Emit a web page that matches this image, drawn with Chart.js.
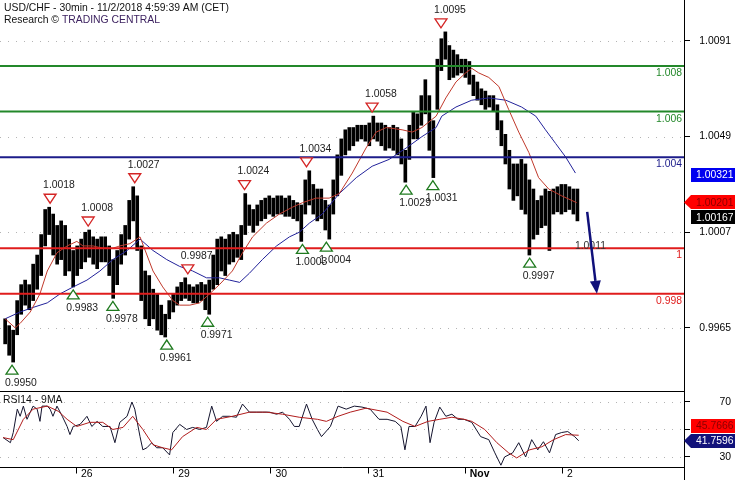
<!DOCTYPE html>
<html>
<head>
<meta charset="utf-8">
<script src="https://cdn.jsdelivr.net/npm/chart.js@4.4.1/dist/chart.umd.min.js"></script>
<style>
  html, body { margin: 0; padding: 0; background: #fff; }
  #wrap { width: 735px; height: 480px; position: relative; }
</style>
</head>
<body>
<div id="wrap"><canvas id="chart" width="735" height="480"></canvas></div>
<script>
const FONT = '"Liberation Sans", Arial, sans-serif'
const FSIZE = 10.4

// axes
const priceTicks = [0.9965, 1.0007, 1.0049, 1.0091]
const rsiTicks = [30, 50, 70]
const dayTicks = [0, 24, 48, 72, 96, 120] // hours from Oct 26 00:00 CET (weekend skipped)
const dayLabels = ['26', '29', '30', '31', 'Nov', '2']

// price bars, sampled roughly hourly (high / low)
const firstBarHour = -17.5
const barStep = 0.988
const barHigh = [
  0.9969, 0.9966, 0.9964, 0.9977, 0.9984, 0.9986, 0.9984, 0.9993, 0.9997, 1.0006,
  1.0017, 1.0018, 1.0015, 1.0010, 1.0012, 1.0010, 1.0004, 0.9999, 1.0001, 1.0004,
  1.0007, 1.0008, 1.0005, 1.0004, 1.0005, 1.0005, 1.0001, 0.9995, 0.9999, 1.0006,
  1.0010, 1.0021, 1.0027, 1.0023, 1.0001, 0.9990, 0.9988, 0.9982, 0.9980, 0.9975,
  0.9971, 0.9977, 0.9980, 0.9983, 0.9985, 0.9987, 0.9984, 0.9983, 0.9984, 0.9985,
  0.9984, 0.9986, 0.9997, 1.0004, 1.0005, 1.0004, 1.0006, 1.0007, 1.0006, 1.0010,
  1.0024, 1.0019, 1.0017, 1.0019, 1.0021, 1.0022, 1.0023, 1.0022, 1.0023, 1.0023,
  1.0022, 1.0023, 1.0021, 1.0020, 1.0019, 1.0030, 1.0034, 1.0028, 1.0026, 1.0026,
  1.0021, 1.0019, 1.0030, 1.0041, 1.0048, 1.0052, 1.0053, 1.0053, 1.0054, 1.0054,
  1.0054, 1.0055, 1.0058, 1.0055, 1.0055, 1.0054, 1.0053, 1.0054, 1.0053, 1.0048,
  1.0043, 1.0054, 1.0060, 1.0059, 1.0067, 1.0074, 1.0067, 1.0056, 1.0083, 1.0092,
  1.0095, 1.0089, 1.0087, 1.0085, 1.0083, 1.0083, 1.0082, 1.0076, 1.0073, 1.0070,
  1.0069, 1.0067, 1.0067, 1.0063, 1.0056, 1.0050, 1.0043, 1.0037, 1.0037, 1.0039,
  1.0037, 1.0030, 1.0026, 1.0021, 1.0023, 1.0026, 1.0025, 1.0026, 1.0027, 1.0028,
  1.0028, 1.0027, 1.0026, 1.0026
]
const barLow = [
  0.9958, 0.9953, 0.9950, 0.9962, 0.9971, 0.9975, 0.9973, 0.9977, 0.9982, 0.9988,
  1.0001, 1.0006, 0.9997, 0.9993, 0.9995, 0.9988, 0.9990, 0.9983, 0.9988, 0.9991,
  0.9994, 0.9996, 0.9993, 0.9991, 0.9994, 0.9994, 0.9988, 0.9978, 0.9984, 0.9993,
  0.9997, 1.0004, 1.0012, 0.9999, 0.9977, 0.9969, 0.9966, 0.9969, 0.9964, 0.9962,
  0.9961, 0.9969, 0.9972, 0.9975, 0.9977, 0.9978, 0.9977, 0.9976, 0.9976, 0.9977,
  0.9973, 0.9971, 0.9982, 0.9984, 0.9990, 0.9988, 0.9993, 0.9994, 0.9996, 0.9995,
  1.0006, 1.0010, 1.0007, 1.0010, 1.0012, 1.0013, 1.0015, 1.0014, 1.0015, 1.0015,
  1.0014, 1.0014, 1.0013, 1.0012, 1.0003, 1.0015, 1.0019, 1.0015, 1.0012, 1.0013,
  1.0008, 1.0004, 1.0015, 1.0023, 1.0032, 1.0041, 1.0043, 1.0045, 1.0047, 1.0048,
  1.0047, 1.0045, 1.0048, 1.0047, 1.0045, 1.0043, 1.0044, 1.0043, 1.0041, 1.0037,
  1.0029, 1.0039, 1.0048, 1.0048, 1.0054, 1.0059, 1.0043, 1.0031, 1.0061, 1.0078,
  1.0083, 1.0074, 1.0075, 1.0076, 1.0077, 1.0075, 1.0072, 1.0067, 1.0065, 1.0063,
  1.0061, 1.0062, 1.0060, 1.0052, 1.0045, 1.0037, 1.0026, 1.0021, 1.0023, 1.0017,
  1.0015, 0.9997, 1.0004, 1.0006, 1.0009, 1.0010, 0.9999, 1.0015, 1.0016, 1.0015,
  1.0016, 1.0017, 1.0015, 1.0012
]

// moving averages
const fastMaHours = [-17.5, -15.0, -13.8, -11.3, -8.9, -7.1, -4.7, -2.2, 0.2, 1.7, 4.2, 6.6, 9.1, 10.8, 13.3, 15.8,
  19.0, 21.4, 23.9, 25.6, 28.1, 30.5, 33.0, 35.4, 38.6, 41.1, 43.6, 47.0, 50.2, 53.4, 55.9, 59.3, 62.5, 65.0,
  68.2, 71.6, 74.1, 76.6, 80.5, 83.0, 85.4, 88.9, 91.3, 93.8, 96.2, 97.7, 99.4, 101.9, 104.4, 106.8, 109.3,
  111.8, 114.2, 116.7, 119.9, 123.6]
const fastMa = [0.9969, 0.9965, 0.9967, 0.9972, 0.9980, 0.9990, 0.9998, 1.0001, 1.0003, 1.0001, 1.0001, 1.0000,
  1.0000, 1.0001, 1.0002, 1.0005, 0.9990, 0.9983, 0.9977, 0.9975, 0.9975, 0.9976, 0.9980, 0.9984, 0.9990, 0.9998,
  1.0005, 1.0011, 1.0015, 1.0018, 1.0020, 1.0022, 1.0022, 1.0024, 1.0033, 1.0044, 1.0051, 1.0053, 1.0052, 1.0051,
  1.0053, 1.0058, 1.0066, 1.0073, 1.0077, 1.0079, 1.0077, 1.0075, 1.0071, 1.0061, 1.0051, 1.0042, 1.0031, 1.0026,
  1.0023, 1.0020]
const slowMaHours = [-17.5, -13.8, -10.6, -7.1, -3.9, -0.7, 2.7, 5.9, 9.1, 12.6, 15.8, 19.0, 22.4, 25.6, 28.8,
  32.2, 35.4, 37.9, 40.4, 42.8, 46.0, 49.5, 52.7, 55.1, 57.6, 60.8, 65.0, 69.2, 73.1, 77.3, 81.5, 85.4, 88.9,
  90.3, 93.8, 97.7, 101.9, 106.1, 110.0, 113.5, 115.9, 118.4, 120.9, 123.3]
const slowMa = [0.9969, 0.9972, 0.9974, 0.9976, 0.9980, 0.9983, 0.9986, 0.9990, 0.9995, 0.9999, 1.0004, 0.9999,
  0.9995, 0.9992, 0.9990, 0.9987, 0.9987, 0.9986, 0.9985, 0.9989, 0.9995, 1.0001, 1.0005, 1.0007, 1.0011, 1.0015,
  1.0024, 1.0031, 1.0036, 1.0039, 1.0044, 1.0049, 1.0053, 1.0058, 1.0062, 1.0065, 1.0066, 1.0065, 1.0062, 1.0058,
  1.0052, 1.0046, 1.0040, 1.0033]

// RSI(14) and its 9-period MA
const rsiHours = [-18.0, -16.2, -15.5, -14.5, -13.8, -13.0, -12.1, -11.3, -10.6, -9.6, -8.9, -8.4, -7.1, -6.4,
  -5.7, -4.7, -3.4, -2.2, -1.5, -0.7, 1.0, 2.7, 3.9, 5.2, 6.6, 8.4, 9.6, 10.8, 12.6, 13.8, 14.5, 15.8, 16.5,
  17.5, 18.7, 19.9, 21.4, 23.1, 23.9, 25.6, 27.3, 28.8, 30.5, 32.2, 33.5, 34.7, 36.2, 37.9, 39.6, 41.1, 42.8,
  44.6, 46.0, 47.8, 49.5, 51.0, 52.7, 53.9, 55.1, 56.9, 58.3, 59.6, 60.6, 62.8, 64.7, 66.7, 68.7, 70.6, 72.6,
  74.8, 76.8, 78.8, 80.2, 81.2, 82.2, 83.7, 85.2, 86.4, 87.4, 88.4, 89.8, 91.3, 92.8, 94.3, 95.8, 97.7, 99.9,
  101.9, 103.4, 104.9, 105.8, 107.8, 109.3, 111.0, 112.5, 114.0, 115.4, 116.9, 118.4, 119.9, 121.4, 123.1, 124.1]
const rsiValues = [44.1, 40.4, 47.8, 64.8, 59.6, 67, 57.4, 62.6, 67, 64.8, 55.9, 67, 67, 64.8, 59.6, 67, 59.6,
  52.2, 46.3, 52.2, 53.7, 59.6, 52.2, 55.9, 52.2, 52.2, 40.4, 55.2, 59.6, 70, 64.8, 44.8, 35.2, 36.7, 40.4, 36.7,
  36.7, 31.5, 47.8, 53.7, 50, 51.5, 50, 51.5, 67, 55.9, 59.6, 59.6, 58.9, 68.5, 62.6, 62.6, 62.6, 62.6, 61.1,
  62.6, 57.4, 52.2, 52.2, 68.5, 57.4, 50, 44.8, 52.2, 67, 64.8, 67, 66.3, 64.8, 57.4, 57.4, 55.9, 52.2, 35.2,
  52.2, 52.2, 59.6, 67, 40.4, 55.2, 66.3, 59.6, 61.1, 57.4, 57.4, 55.2, 44.8, 42.6, 33, 24, 30, 33, 40.4, 30,
  42.6, 35.2, 41.1, 33, 46.3, 47.8, 48.5, 44.8, 41.8]
const rsiMaHours = [-18.0, -15.5, -13.0, -10.6, -7.1, -4.4, -2.2, 0.2, 3.4, 6.6, 9.1, 11.6, 14.0, 16.5, 19.0,
  21.4, 23.6, 26.3, 29.8, 32.2, 34.7, 38.6, 42.8, 47.0, 51.0, 55.1, 59.6, 61.8, 64.7, 67.7, 71.6, 76.8, 80.7,
  83.7, 86.9, 89.8, 92.8, 95.8, 97.7, 100.9, 103.9, 106.8, 108.8, 112.0, 115.0, 117.9, 120.9, 124.1]
const rsiMaValues = [44.1, 42.6, 57.4, 64.8, 67, 63.3, 57.4, 52.2, 55.2, 55.2, 50, 51.5, 59.6, 50, 38.9, 36.7,
  35.2, 44.8, 51.5, 50, 57.4, 59.6, 62.6, 62.6, 61.1, 58.9, 57.4, 55.9, 59.6, 62.6, 65.5, 62.6, 55.9, 52.2, 55.9,
  57.4, 58.9, 57.4, 55.9, 50, 40.4, 33, 29.3, 35.2, 37.4, 42.6, 46.3, 45.8]

// swing points
const pivotHours = [-15.8, -6.4, -0.7, 3.0, 9.1, 14.5, 22.4, 27.6, 32.5, 41.6, 55.9, 56.9, 61.8, 73.1, 81.5, 88.1, 90.1, 112.0]
const pivotValues = [0.9950, 1.0018, 0.9983, 1.0008, 0.9978, 1.0027, 0.9961, 0.9987, 0.9971, 1.0024, 1.0003,
  1.0034, 1.0004, 1.0058, 1.0029, 1.0031, 1.0095, 0.9997]
const pivotKinds = ['low', 'high', 'low', 'high', 'low', 'high', 'low', 'high', 'low', 'high', 'low', 'high',
  'low', 'high', 'low', 'low', 'high', 'low']

// support / resistance levels
const levelValues = [1.008, 1.006, 1.004, 1.000, 0.998]
const levelLabels = ['1.008', '1.006', '1.004', '1', '0.998']
const levelColors = ['#23882a', '#23882a', '#1c1c8a', '#e01c1c', '#e01c1c']

// projection arrow and target note
const arrowHours = [126.2, 128.6]
const arrowValues = [1.0016, 0.998]
const noteHour = 127.0
const noteValue = 1.0000
const noteText = '1.0011'

// last values shown on the axis
const lastSlowMa = 1.00321
const lastFastMa = 1.00201
const lastClose = 1.00167
const lastRsi = 41.7596
const lastRsiMa = 45.7666

const bars = barHigh.map((h, i) => ({ x: firstBarHour + i * barStep, y: [barLow[i], h] }))
const pts = (xs, ys) => xs.map((x, i) => ({ x, y: ys[i] }))

Chart.defaults.font.family = FONT
Chart.defaults.font.size = FSIZE
Chart.defaults.color = '#000'

const overlay = {
  id: 'overlay',
  beforeDatasetsDraw(chart) {
    const { ctx, chartArea: a, scales } = chart
    ctx.save()
    ctx.strokeStyle = '#b4b4b4'
    ctx.lineWidth = 1
    ctx.setLineDash([1, 7])
    const dots = (scale, vals) => vals.forEach(v => {
      const y = Math.round(scale.getPixelForValue(v)) + 0.5
      ctx.beginPath()
      ctx.moveTo(a.left, y)
      ctx.lineTo(a.right, y)
      ctx.stroke()
    })
    dots(scales.y, priceTicks)
    dots(scales.rsi, rsiTicks)
    ctx.restore()
  },
  afterDraw(chart) {
    const { ctx, chartArea: a, scales } = chart
    const xs = scales.x, ys = scales.y, rs = scales.rsi
    ctx.save()
    ctx.font = FSIZE + 'px ' + FONT

    // level lines
    ctx.save()
    ctx.beginPath()
    ctx.rect(a.left, a.top, a.right - a.left, ys.bottom - a.top)
    ctx.clip()
    levelValues.forEach((v, i) => {
      const y = ys.getPixelForValue(v)
      ctx.strokeStyle = levelColors[i]
      ctx.lineWidth = 2
      ctx.beginPath()
      ctx.moveTo(a.left, y)
      ctx.lineTo(a.right, y)
      ctx.stroke()
      ctx.fillStyle = levelColors[i]
      ctx.textAlign = 'right'
      ctx.textBaseline = 'top'
      ctx.fillText(levelLabels[i], a.right - 2, y + 2)
    })

    // swing triangles
    pivotHours.forEach((h, i) => {
      const x = xs.getPixelForValue(h)
      const y = ys.getPixelForValue(pivotValues[i])
      const high = pivotKinds[i] === 'high'
      const cy = high ? y - 9 : y + 8
      ctx.beginPath()
      if (high) {
        ctx.moveTo(x - 6, cy - 4); ctx.lineTo(x + 6, cy - 4); ctx.lineTo(x, cy + 5)
      } else {
        ctx.moveTo(x - 6, cy + 4); ctx.lineTo(x + 6, cy + 4); ctx.lineTo(x, cy - 5)
      }
      ctx.closePath()
      ctx.fillStyle = '#fff'
      ctx.fill()
      ctx.strokeStyle = high ? '#d42424' : '#1f7a1f'
      ctx.lineWidth = 1.3
      ctx.stroke()
      ctx.fillStyle = '#222'
      ctx.textAlign = 'left'
      ctx.textBaseline = 'middle'
      ctx.fillText(pivotValues[i].toFixed(4), x - 7, high ? y - 22 : y + 21)
    })

    // target note
    ctx.fillStyle = '#333'
    ctx.textAlign = 'center'
    ctx.textBaseline = 'middle'
    ctx.fillText(noteText, xs.getPixelForValue(noteHour), ys.getPixelForValue(noteValue) - 2)

    // projection arrow
    const x0 = xs.getPixelForValue(arrowHours[0]), y0 = ys.getPixelForValue(arrowValues[0])
    const x1 = xs.getPixelForValue(arrowHours[1]), y1 = ys.getPixelForValue(arrowValues[1])
    const ang = Math.atan2(y1 - y0, x1 - x0)
    const hl = 13, hw = 5.5
    ctx.strokeStyle = '#10107a'
    ctx.fillStyle = '#10107a'
    ctx.lineWidth = 2.5
    ctx.beginPath()
    ctx.moveTo(x0, y0)
    ctx.lineTo(x1 - Math.cos(ang) * hl, y1 - Math.sin(ang) * hl)
    ctx.stroke()
    ctx.beginPath()
    ctx.moveTo(x1, y1)
    ctx.lineTo(x1 - Math.cos(ang) * hl - Math.sin(ang) * hw, y1 - Math.sin(ang) * hl + Math.cos(ang) * hw)
    ctx.lineTo(x1 - Math.cos(ang) * hl + Math.sin(ang) * hw, y1 - Math.sin(ang) * hl - Math.cos(ang) * hw)
    ctx.closePath()
    ctx.fill()
    ctx.restore()

    // frame lines
    ctx.strokeStyle = '#000'
    ctx.lineWidth = 1
    const sep = Math.round(ys.bottom) + 0.5
    const bot = Math.round(a.bottom) + 0.5
    const rx = Math.round(a.right) + 0.5
    ctx.beginPath()
    ctx.moveTo(a.left, sep); ctx.lineTo(rx, sep)
    ctx.moveTo(a.left, bot); ctx.lineTo(rx, bot)
    ctx.moveTo(rx, 0); ctx.lineTo(rx, chart.height)
    dayTicks.forEach(d => {
      const x = Math.round(xs.getPixelForValue(d)) + 0.5
      ctx.moveTo(x, bot); ctx.lineTo(x, bot + 6)
    })
    ctx.stroke()

    // titles
    ctx.textAlign = 'left'
    ctx.textBaseline = 'middle'
    ctx.fillStyle = '#111'
    ctx.fillText('USD/CHF - 30min - 11/2/2018 4:59:39 AM (CET)', 4, 8)
    const lead = 'Research \u00a9 '
    ctx.fillText(lead, 4, 20)
    ctx.fillStyle = '#3d2260'
    ctx.fillText('TRADING CENTRAL', 4 + ctx.measureText(lead).width, 20)
    ctx.fillStyle = '#111'
    ctx.fillText('RSI14 - 9MA', 3, ys.bottom + 9)

    // value tags on the axis
    const th = 14, tx = a.right + 7, tw = chart.width - tx
    const tag = (y, text, bg, fg, arrow) => {
      ctx.fillStyle = bg
      ctx.fillRect(tx, Math.round(y - th / 2), tw, th)
      if (arrow) {
        ctx.beginPath()
        ctx.moveTo(a.right, y)
        ctx.lineTo(tx, Math.round(y - th / 2))
        ctx.lineTo(tx, Math.round(y - th / 2) + th)
        ctx.closePath()
        ctx.fill()
      }
      ctx.fillStyle = fg
      ctx.textAlign = 'left'
      ctx.textBaseline = 'middle'
      ctx.fillText(text, tx + 5, y + 0.5)
    }
    const away = (y, anchor) => Math.abs(y - anchor) < th + 1 ? (y > anchor ? anchor + th + 1 : anchor - th - 1) : y
    const fastY = ys.getPixelForValue(lastFastMa)
    tag(ys.getPixelForValue(lastSlowMa), lastSlowMa.toFixed(5), '#0000f0', '#fff', false)
    tag(fastY, lastFastMa.toFixed(5), '#ff0000', '#8a0000', true)
    tag(away(ys.getPixelForValue(lastClose), fastY), lastClose.toFixed(5), '#000', '#fff', false)
    const rsiY = rs.getPixelForValue(lastRsi)
    tag(away(rs.getPixelForValue(lastRsiMa), rsiY), lastRsiMa.toFixed(4), '#ff0000', '#8a0000', false)
    tag(rsiY, lastRsi.toFixed(4), '#12127a', '#fff', true)
    ctx.restore()
  }
}

const yFit = (w) => (s) => { s.width = w; s.paddingTop = 0; s.paddingBottom = 0 }

new Chart(document.getElementById('chart'), {
  type: 'bar',
  data: {
    datasets: [
      { type: 'line', data: pts(fastMaHours, fastMa), borderColor: '#c0392b', borderWidth: 1, pointRadius: 0, yAxisID: 'y', order: 1 },
      { type: 'line', data: pts(slowMaHours, slowMa), borderColor: '#22229a', borderWidth: 1, pointRadius: 0, yAxisID: 'y', order: 2 },
      { type: 'bar', data: bars, backgroundColor: '#000', barThickness: 3, grouped: false, yAxisID: 'y', order: 5 },
      { type: 'line', data: pts(rsiMaHours, rsiMaValues), borderColor: '#b01c1c', borderWidth: 1, pointRadius: 0, yAxisID: 'rsi', order: 3 },
      { type: 'line', data: pts(rsiHours, rsiValues), borderColor: '#14142e', borderWidth: 1, pointRadius: 0, yAxisID: 'rsi', order: 4 }
    ]
  },
  options: {
    responsive: false,
    animation: false,
    layout: { padding: { left: 0, right: 4, top: 0, bottom: 0 } },
    plugins: { legend: { display: false }, tooltip: { enabled: false } },
    scales: {
      x: {
        type: 'linear',
        min: -18.77,
        max: 150.1,
        offset: false,
        grid: { display: false, drawTicks: false },
        border: { display: false },
        afterBuildTicks: (s) => { s.ticks = dayTicks.map(v => ({ value: v })) },
        afterFit: (s) => { s.height = 13; s.paddingLeft = 0; s.paddingRight = 0 },
        ticks: {
          autoSkip: false,
          maxRotation: 0,
          align: 'start',
          labelOffset: 5,
          padding: 1,
          color: '#000',
          font: (c) => ({ family: FONT, size: FSIZE, weight: c.tick && c.tick.label === 'Nov' ? 'bold' : 'normal' }),
          callback: (v) => dayLabels[dayTicks.indexOf(v)] ?? ''
        }
      },
      y: {
        type: 'linear',
        position: 'right',
        stack: 'panes',
        stackWeight: 391,
        min: 0.99373,
        max: 1.0109,
        grid: { drawOnChartArea: false, drawTicks: true, tickLength: 6, tickColor: '#000' },
        border: { display: false },
        afterBuildTicks: (s) => { s.ticks = priceTicks.map(v => ({ value: v })) },
        afterFit: yFit(47),
        ticks: { crossAlign: 'far', padding: 4, color: '#000', callback: (v) => v.toFixed(4) }
      },
      rsi: {
        type: 'linear',
        position: 'right',
        stack: 'panes',
        stackWeight: 76,
        min: 22.7,
        max: 78,
        grid: { drawOnChartArea: false, drawTicks: true, tickLength: 6, tickColor: '#000' },
        border: { display: false },
        afterBuildTicks: (s) => { s.ticks = rsiTicks.map(v => ({ value: v })) },
        afterFit: yFit(47),
        ticks: { crossAlign: 'far', padding: 4, color: '#000', callback: (v) => (v === 50 ? '' : String(v)) }
      }
    }
  },
  plugins: [overlay]
})
</script>
</body>
</html>
